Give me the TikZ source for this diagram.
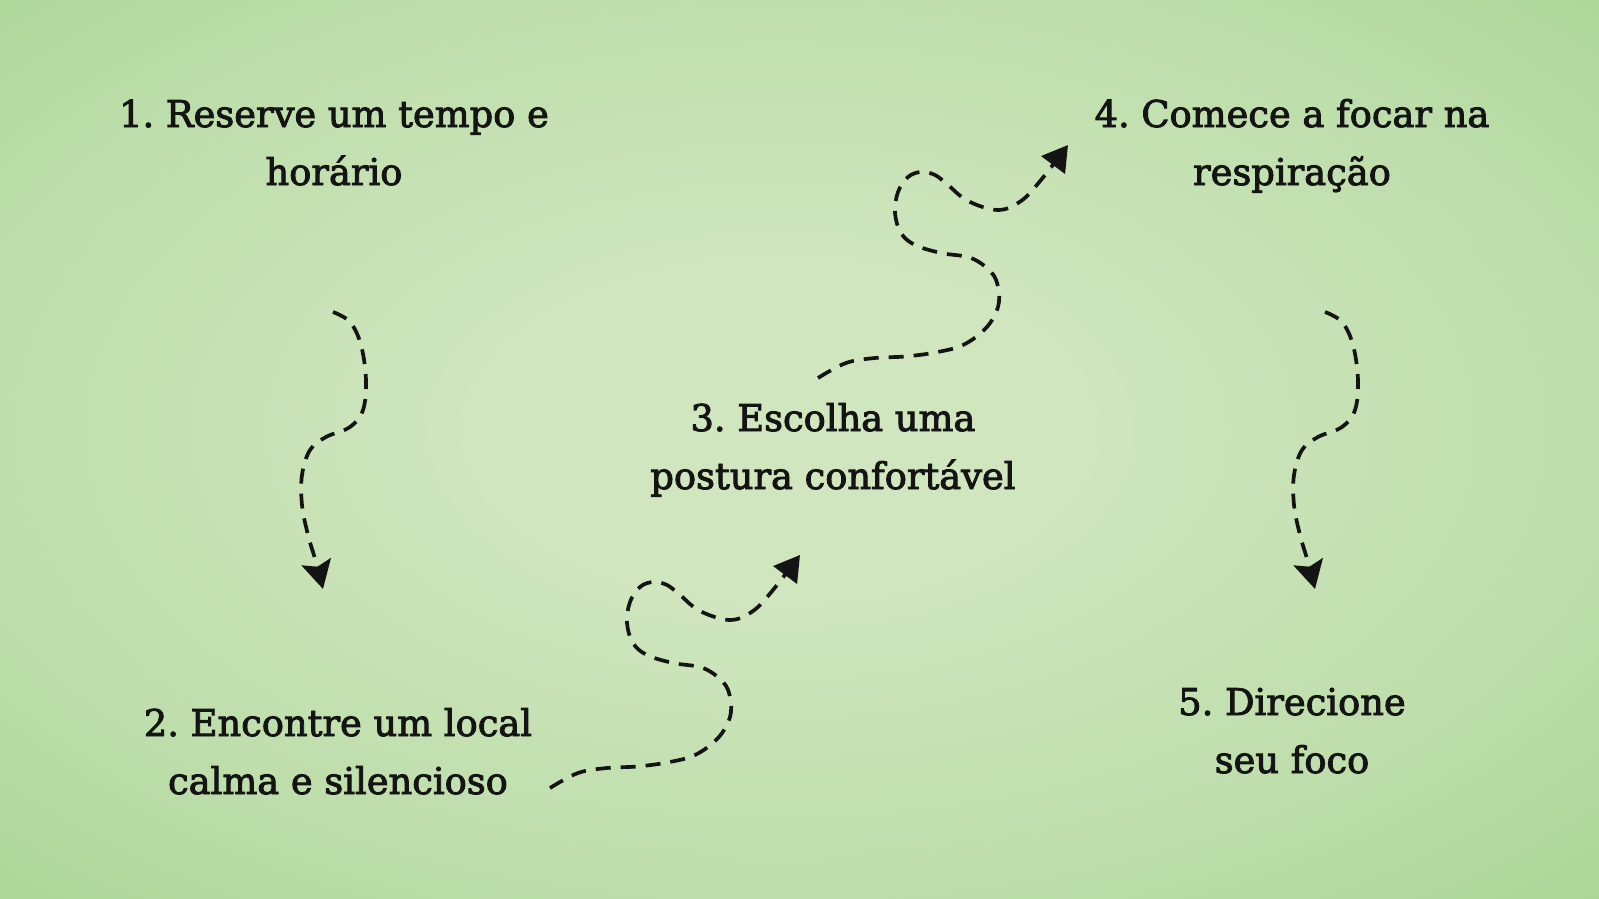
\documentclass[tikz,border=0pt]{standalone}
\usepackage{fontspec}
\setmainfont{DejaVu Serif}[FakeBold=2.5]
\frenchspacing
\usetikzlibrary{arrows.meta}
\definecolor{bgin}{RGB}{208,230,191}
\definecolor{bgmid}{RGB}{188,221,169}
\definecolor{bgedge}{RGB}{162,209,141}
\definecolor{bgrim}{RGB}{153,204,130}
\definecolor{bgout}{RGB}{146,200,122}
\definecolor{ink}{RGB}{20,20,20}
\pgfdeclareradialshading{bgglow}{\pgfpoint{0bp}{0bp}}{color(0bp)=(bgin); color(8bp)=(bgin); color(24bp)=(bgmid); color(38bp)=(bgedge); color(48bp)=(bgrim); color(72bp)=(bgout)}
\tikzset{
  steptext/.style={anchor=base, text=ink, inner sep=0pt, font=\fontsize{36.8}{58}\selectfont},
  flow/.style={draw=ink, line width=3.7pt, dash pattern=on 15pt off 10pt, line cap=butt},
  downtip/.style={-{Stealth[length=28pt, width=30pt, inset=5pt]}},
  uptip/.style={-{Triangle[length=25pt, width=29pt]}},
}
\begin{document}
\begin{tikzpicture}[x=1pt, y=-1pt]
\useasboundingbox (0,0) rectangle (1599,899);
\begin{scope}
  \clip (0,0) rectangle (1599,899);
  \shade[shading=bgglow] (-120,-70) rectangle (1680,930);
\end{scope}

% texts
\node[steptext] (s1a) at (334,127) {1. Reserve um tempo e};
\node[steptext] (s1b) at (334,185) {horário};
\node[steptext] (s2a) at (338,736) {2. Encontre um local};
\node[steptext] (s2b) at (338,794) {calma e silencioso};
\node[steptext] (s3a) at (833,431) {3. Escolha uma};
\node[steptext] (s3b) at (833,489) {postura confortável};
\node[steptext] (s4a) at (1292,127) {4. Comece a focar na};
\node[steptext] (s4b) at (1292,185) {respiração};
\node[steptext] (s5a) at (1292,715) {5. Direcione};
\node[steptext] (s5b) at (1292,773) {seu foco};

% arrow endpoints
\coordinate (a1s) at (333,312);
\coordinate (a1e) at (323,589);
\coordinate (a2s) at (550,788);
\coordinate (a2e) at (800,555);
\coordinate (a3s) at (818,378);
\coordinate (a3e) at (1068,145);
\coordinate (a4s) at (1325,312);
\coordinate (a4e) at (1315,589);

% 1 -> 2
\draw[flow, downtip] plot[smooth, tension=0.6] coordinates {(a1s) (350,322) (361,345) (366,380) (363,410) (350,427) (326,437) (310,450) (302,475) (302,505) (308,535) (316,562) (a1e)};
% 4 -> 5
\draw[flow, downtip] plot[smooth, tension=0.6] coordinates {(a4s) (1342,322) (1353,345) (1358,380) (1355,410) (1342,427) (1318,437) (1302,450) (1294,475) (1294,505) (1300,535) (1308,562) (a4e)};
% 2 -> 3
\draw[flow, uptip] plot[smooth, tension=0.6] coordinates {(a2s) (578,773) (607,768) (637,766.5) (667,762.5) (695,755) (718,738) (730,717) (730,697) (723,682) (703,668) (673,663) (647,655) (633,643) (627,623) (630,602) (640,587) (653,582) (667,585) (680,595) (700,611) (730,620) (753,611) (773,590) (a2e)};
% 3 -> 4
\draw[flow, uptip] plot[smooth, tension=0.6] coordinates {(a3s) (846,363) (875,358) (905,356.5) (935,352.5) (963,345) (986,328) (998,307) (998,287) (991,272) (971,258) (941,253) (915,245) (901,233) (895,213) (898,192) (908,177) (921,172) (935,175) (948,185) (968,201) (998,210) (1021,201) (1041,180) (a3e)};
\end{tikzpicture}
\end{document}
